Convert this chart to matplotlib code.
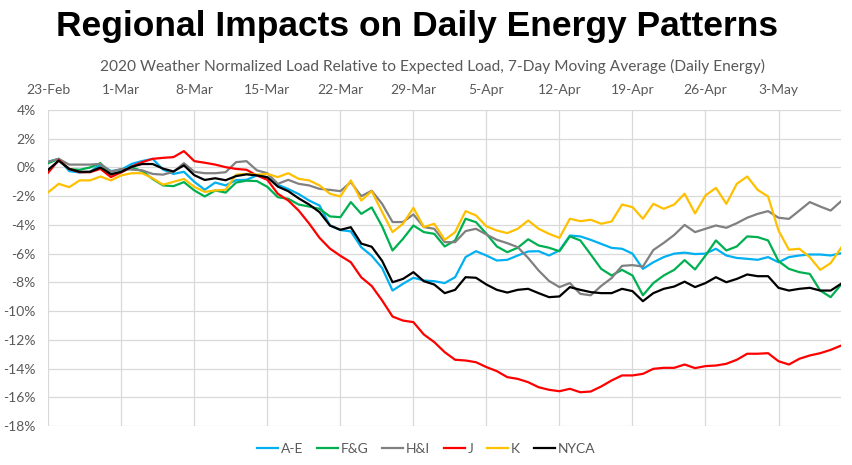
import numpy as np
import pandas as pd
import matplotlib
matplotlib.use("Agg")
from matplotlib import pyplot as plt
from matplotlib.ticker import FuncFormatter

# daily points, 23-Feb-2020 .. 9-May-2020 (values in %)
dates = pd.date_range("2020-02-23", "2020-05-09", freq="D")

a_e = [0.4, 0.6, -0.25, -0.35, -0.3, 0.2, -0.25, -0.15, 0.25, 0.45,
       0.6, -0.15, -0.45, -0.3, -1.0, -1.55, -1.05, -1.25, -0.88, -0.86,
       -0.55, -0.68, -1.2, -1.5, -1.85, -2.3, -2.65, -4.04, -4.36, -4.45,
       -5.55, -6.15, -7.0, -8.57, -8.1, -7.68, -7.87, -7.92, -8.05, -7.64,
       -6.24, -5.83, -6.13, -6.48, -6.43, -6.13, -5.85, -5.83, -6.13, -5.78,
       -4.74, -4.8, -5.04, -5.32, -5.6, -5.66, -6.0, -7.06, -6.6, -6.24,
       -6.0, -5.93, -6.03, -6.0, -5.66, -6.13, -6.3, -6.36, -6.43, -6.24,
       -6.6, -6.24, -6.13, -6.06, -6.06, -6.13, -5.97]

f_g = [0.3, 0.6, -0.12, -0.16, 0.0, 0.3, -0.5, -0.33, 0.0, -0.25,
       -0.8, -1.25, -1.3, -1.02, -1.6, -2.02, -1.6, -1.75, -1.05, -0.92,
       -0.95, -1.35, -2.07, -2.18, -2.58, -2.72, -2.88, -3.41, -3.46, -2.41,
       -3.23, -2.78, -4.1, -5.78, -4.97, -4.04, -4.5, -4.62, -5.5, -5.08,
       -3.57, -3.81, -4.62, -5.5, -5.9, -5.59, -5.0, -5.43, -5.59, -5.83,
       -4.8, -5.08, -6.06, -7.06, -7.52, -7.13, -7.52, -8.9, -8.05, -7.52,
       -7.13, -6.45, -7.1, -6.13, -5.08, -5.78, -5.5, -4.8, -4.85, -5.08,
       -6.52, -7.06, -7.29, -7.41, -8.57, -9.03, -8.15]

h_i = [0.4, 0.6, 0.2, 0.2, 0.2, 0.25, -0.3, -0.1, -0.15, -0.2,
       -0.45, -0.5, -0.3, 0.3, -0.3, -0.4, -0.4, -0.33, 0.37, 0.44,
       -0.2, -0.4, -1.14, -0.86, -1.14, -1.25, -1.49, -1.56, -1.65, -1.02,
       -2.0, -1.62, -2.53, -3.8, -3.8, -3.27, -4.15, -4.27, -5.2, -5.2,
       -4.43, -4.27, -4.67, -5.04, -5.27, -5.55, -6.3, -7.17, -7.9, -8.33,
       -8.05, -8.8, -8.9, -8.25, -7.7, -6.85, -6.8, -6.9, -5.75, -5.25,
       -4.7, -4.0, -4.5, -4.27, -4.04, -4.2, -3.88, -3.5, -3.23, -3.04,
       -3.5, -3.58, -3.0, -2.41, -2.72, -3.0, -2.35]

j = [-0.35, 0.52, -0.1, -0.33, -0.33, -0.1, -0.67, -0.33, 0.07, 0.37,
     0.6, 0.67, 0.72, 1.14, 0.44, 0.33, 0.2, 0.02, -0.1, -0.16,
     -0.56, -0.86, -1.83, -2.3, -3.0, -3.9, -4.9, -5.65, -6.15, -6.6,
     -7.65, -8.25, -9.26, -10.38, -10.66, -10.77, -11.63, -12.16, -12.86, -13.39,
     -13.44, -13.56, -13.9, -14.18, -14.6, -14.72, -14.95, -15.3, -15.48, -15.58,
     -15.41, -15.65, -15.6, -15.25, -14.83, -14.48, -14.48, -14.37, -14.02, -13.95,
     -13.95, -13.72, -13.97, -13.83, -13.79, -13.67, -13.39, -12.97, -12.97, -12.93,
     -13.49, -13.72, -13.32, -13.09, -12.93, -12.7, -12.4]

k = [-1.72, -1.14, -1.37, -0.9, -0.9, -0.63, -0.9, -0.55, -0.4, -0.4,
     -0.75, -1.2, -1.0, -0.8, -1.35, -1.7, -1.6, -1.55, -0.5, -0.45,
     -0.5, -0.45, -0.67, -0.4, -0.79, -0.9, -1.25, -1.83, -2.02, -0.9,
     -2.3, -1.65, -3.1, -4.5, -3.92, -2.81, -4.15, -3.92, -5.04, -4.5,
     -3.04, -3.34, -4.1, -4.39, -4.57, -4.27, -3.69, -4.27, -4.62, -4.9,
     -3.57, -3.74, -3.64, -3.92, -3.76, -2.58, -2.76, -3.57, -2.53, -2.88,
     -2.58, -1.83, -3.2, -1.95, -1.42, -2.53, -1.14, -0.63, -1.56, -2.02,
     -4.39, -5.73, -5.66, -6.25, -7.13, -6.66, -5.59]

nyca = [-0.15, 0.47, -0.1, -0.3, -0.3, 0.0, -0.47, -0.3, 0.05, 0.24,
        0.24, -0.08, -0.28, 0.15, -0.54, -0.87, -0.75, -0.89, -0.6, -0.48,
        -0.55, -0.68, -1.33, -1.65, -2.15, -2.58, -3.11, -4.04, -4.34, -4.16,
        -5.3, -5.52, -6.5, -7.99, -7.76, -7.29, -7.92, -8.15, -8.75, -8.52,
        -7.64, -7.68, -8.15, -8.52, -8.71, -8.52, -8.45, -8.75, -9.03, -8.98,
        -8.33, -8.52, -8.68, -8.75, -8.75, -8.45, -8.61, -9.31, -8.75, -8.45,
        -8.29, -7.95, -8.33, -8.05, -7.64, -7.99, -7.76, -7.45, -7.57, -7.57,
        -8.38, -8.57, -8.45, -8.38, -8.57, -8.57, -8.1]

names = ["A-E", "F&G", "H&I", "J", "K", "NYCA"]
series = [a_e, f_g, h_i, j, k, nyca]
colors = ["#00B0F0", "#00B050", "#808080", "#FF0000", "#FFC000", "#000000"]

title = "Regional Impacts on Daily Energy Patterns"
subtitle = "2020 Weather Normalized Load Relative to Expected Load, 7-Day Moving Average (Daily Energy)"

grey = "#595959"
fig = plt.figure(figsize=(8.52, 4.65), dpi=100)
ax = fig.add_axes([0.0567, 0.0839, 0.9305, 0.6795])

for name, vals, c in zip(names, series, colors):
    ax.plot(dates, vals, color=c, lw=1.6, label=name)

ax.set_xlim(dates[0], dates[-1])
ax.set_ylim(-18, 4)
ax.set_yticks(np.arange(-18, 5, 2))
ax.yaxis.set_major_formatter(FuncFormatter(lambda v, p: f"{v:.0f}%"))

xt = dates[::7]
ax.set_xticks(xt)
ax.set_xticklabels([f"{d.day}-{d.strftime('%b')}" for d in xt])
ax.xaxis.tick_top()

ax.grid(True, color="#d9d9d9", lw=0.9)
ax.set_axisbelow(True)
for s in ax.spines.values():
    s.set_visible(False)
ax.tick_params(length=0, labelsize=10, labelcolor=grey)
ax.tick_params(axis="x", pad=10)
ax.tick_params(axis="y", pad=9)
for lab in ax.get_xticklabels() + ax.get_yticklabels():
    lab.set_family("Lato")

fig.text(0.49, 0.942, title, ha="center", va="center", fontsize=25.5,
         fontweight="bold", family="Liberation Sans")
fig.text(0.508, 0.858, subtitle, ha="center", va="center", fontsize=11.2,
         color=grey, family="Lato")

leg = ax.legend(loc="center", bbox_to_anchor=(0.5, 0.034), bbox_transform=fig.transFigure,
                ncol=6, frameon=False, handlelength=1.5, handletextpad=0.2,
                columnspacing=1.0, prop={"family": "Lato", "size": 10})
for t in leg.get_texts():
    t.set_color(grey)

fig.savefig("out.png", dpi=100)
